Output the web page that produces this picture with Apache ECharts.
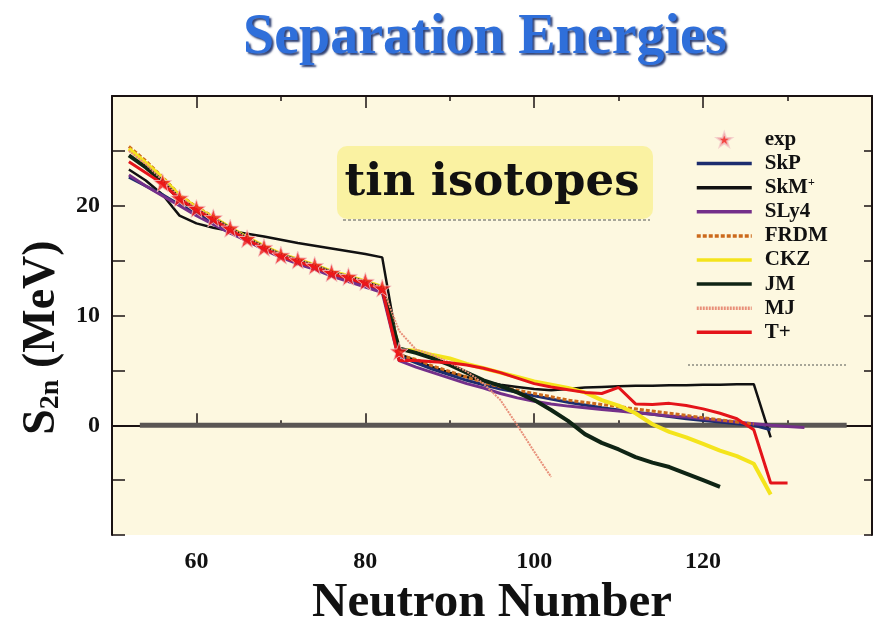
<!DOCTYPE html>
<html>
<head>
<meta charset="utf-8">
<script src="https://cdn.jsdelivr.net/npm/echarts@6/dist/echarts.min.js"></script>
<style>
html,body{margin:0;padding:0;background:#ffffff;}
#chart{width:879px;height:633px;}
</style>
</head>
<body>
<div id="chart"></div>
<script>
// Neutron numbers (even N)
const neutrons = [52,54,56,58,60,62,64,66,68,70,72,74,76,78,80,82,84,86,88,90,92,94,96,98,100,102,104,106,108,110,112,114,116,118,120,122,124,126,128,130,132];

// S2n values (MeV) per model, null where not drawn
const expS2n = [null,null,22.1,20.7,19.75,18.9,17.95,17.0,16.2,15.5,15.05,14.55,13.9,13.55,13.1,12.5,6.75,
  null,null,null,null,null,null,null,null,null,null,null,null,null,null,null,null,null,null,null,null,null,null,null,null];
const skpS2n = [22.6,21.8,21.0,20.1,19.3,18.5,17.7,16.9,16.2,15.5,14.9,14.4,13.8,13.3,12.8,12.3,6.3,5.7,5.1,4.6,4.1,3.7,3.3,3.0,2.7,2.4,2.1,1.85,1.6,1.4,1.2,1.0,0.8,0.6,0.45,0.3,0.15,0.0,-0.4,null,null];
const skmS2n = [23.3,22.3,21.0,19.1,18.4,18.0,17.7,17.45,17.2,16.9,16.6,16.35,16.1,15.85,15.6,15.3,6.5,5.9,5.3,4.8,4.4,4.0,3.7,3.5,3.3,3.2,3.3,3.45,3.5,3.55,3.6,3.6,3.65,3.65,3.7,3.7,3.75,3.75,-1.1,null,null];
const sly4S2n = [22.8,21.8,20.9,20.0,19.1,18.3,17.5,16.8,16.0,15.3,14.7,14.2,13.6,13.1,12.6,12.1,5.9,5.3,4.8,4.3,3.8,3.4,2.9,2.5,2.2,1.95,1.75,1.6,1.45,1.3,1.15,1.0,0.85,0.75,0.6,0.45,0.3,0.15,0.0,-0.1,-0.2];
const frdmS2n = [25.4,24.1,22.6,21.0,19.9,19.0,18.0,17.1,16.3,15.6,15.1,14.6,14.0,13.6,13.1,12.6,6.4,6.0,5.4,4.9,4.4,3.9,3.5,3.2,2.9,2.6,2.3,2.1,1.9,1.7,1.5,1.3,1.1,0.9,0.7,0.5,0.3,0.1,null,null,null];
const ckzS2n = [25.2,23.9,22.5,20.9,19.8,18.9,18.0,17.1,16.3,15.6,15.1,14.6,14.0,13.6,13.1,12.6,6.9,6.8,6.4,6.1,5.6,5.2,4.8,4.4,4.0,3.7,3.4,3.0,2.3,1.8,1.1,0.1,-0.6,-1.1,-1.7,-2.3,-2.8,-3.5,-6.3,null,null];
const jmS2n = [24.6,23.5,22.2,20.6,19.6,18.8,17.9,17.0,16.2,15.5,15.0,14.5,13.9,13.5,13.0,12.5,7.0,6.6,6.1,5.5,4.8,4.1,3.6,3.0,2.3,1.4,0.4,-0.8,-1.6,-2.2,-2.9,-3.4,-3.8,-4.4,-5.0,-5.6,null,null,null,null,null];
const mjS2n = [25.0,23.8,22.3,20.8,19.8,18.9,18.0,17.1,16.3,15.6,15.1,14.6,14.0,13.6,13.1,12.6,8.6,6.9,6.4,5.7,4.9,3.8,2.3,0.0,-2.4,-4.7,null,null,null,null,null,null,null,null,null,null,null,null,null,null,null];
const tplusS2n = [24.0,23.0,22.0,20.6,19.6,18.7,17.8,16.9,16.1,15.4,14.9,14.4,13.8,13.4,12.9,12.4,5.9,5.9,5.8,5.7,5.5,5.2,4.8,4.3,3.8,3.5,3.25,3.0,2.9,3.45,1.95,1.9,2.0,1.8,1.5,1.1,0.6,-0.4,-5.25,-5.25,null];

// zero reference line
const zeroLineN = [53.3, 137];
const zeroLineS = [0, 0];

// axis ticks / labels
const xMajorTicks = [60, 80, 100, 120];
const xMinorTicks = [70, 90, 110, 130];
const xLabels = [60, 80, 100, 120];
const yLabels = [0, 10, 20];

const legendNames = ['exp','SkP','SkM*','SLy4','FRDM','CKZ','JM','MJ','T+'];

function pairs(vals){
  return neutrons.map((n,i)=>[n, vals[i]]).filter(p => p[1] !== null);
}

const STAR = 'path://M0,-10 L2.35,-3.24 L9.51,-3.09 L3.8,1.24 L5.88,8.09 L0,4 L-5.88,8.09 L-3.8,1.24 L-9.51,-3.09 L-2.35,-3.24 Z';
const SERIF = '"Liberation Serif","Times New Roman",serif';

function lineSeries(name, vals, color, width, type, z){
  return {
    name: name, type: 'line', data: pairs(vals), symbol: 'none',
    lineStyle: {color: color, width: width, type: type || 'solid'},
    itemStyle: {color: color},
    z: z || 2, silent: true, animation: false
  };
}

const chart = echarts.init(document.getElementById('chart'), null, {renderer: 'canvas'});

const axisLineStyle = {color: '#1a1212', width: 2};

chart.setOption({
  backgroundColor: '#ffffff',
  animation: false,
  title: {
    text: 'Separation Energies',
    left: 238, top: 6,
    textStyle: {
      fontFamily: SERIF, fontWeight: 'bold', fontSize: 56, color: '#2f6fda',
      textShadowColor: 'rgba(10,30,90,0.85)', textShadowOffsetX: 2, textShadowOffsetY: 2, textShadowBlur: 2
    }
  },
  grid: {left: 112, right: 7, top: 96, bottom: 93, show: true, backgroundColor: '#fdf8e0', borderWidth: 0},
  legend: {
    data: legendNames.map(n => n === 'exp' ? {name: n} : {name: n, itemStyle: {opacity: 0}}),
    orient: 'vertical', left: 690, top: 124,
    itemWidth: 55, itemHeight: 14, itemGap: 3.1,
    lineStyle: {width: 3.5},
    textStyle: {
      fontFamily: SERIF, fontWeight: 'bold', fontSize: 21, color: '#111', padding: [0,0,0,8],
      rich: {sup: {fontFamily: SERIF, fontWeight: 'bold', fontSize: 12, color: '#111', verticalAlign: 'top', padding: [0,0,8,0]}}
    },
    formatter: function(n){ return n === 'SkM*' ? n.replace('*','') + '{sup|+}' : n; },
    selectedMode: false
  },
  xAxis: [
    {
      type: 'value', min: 50, max: 140, position: 'bottom',
      name: 'Neutron Number', nameLocation: 'middle', nameGap: 42,
      nameTextStyle: {fontFamily: SERIF, fontWeight: 'bold', fontSize: 49, color: '#111'},
      axisLine: {show: true, lineStyle: axisLineStyle},
      axisTick: {show: true, inside: true, length: 12, customValues: xMajorTicks, lineStyle: {color: '#1a1212', width: 1.5}},
      axisLabel: {customValues: xLabels, margin: 15, fontFamily: SERIF, fontWeight: 'bold', fontSize: 24, color: '#111'},
      splitLine: {show: false}
    },
    {
      type: 'value', min: 50, max: 140, position: 'bottom',
      axisLine: {show: false},
      axisTick: {show: true, inside: true, length: 5, customValues: xMinorTicks, lineStyle: {color: '#1a1212', width: 1.5}},
      axisLabel: {show: false}, splitLine: {show: false}
    },
    {
      type: 'value', min: 50, max: 140, position: 'top',
      axisLine: {show: true, lineStyle: axisLineStyle},
      axisTick: {show: true, inside: true, length: 12, customValues: xMajorTicks, lineStyle: {color: '#1a1212', width: 1.5}},
      axisLabel: {show: false}, splitLine: {show: false}
    },
    {
      type: 'value', min: 50, max: 140, position: 'top',
      axisLine: {show: false},
      axisTick: {show: true, inside: true, length: 5, customValues: xMinorTicks, lineStyle: {color: '#1a1212', width: 1.5}},
      axisLabel: {show: false}, splitLine: {show: false}
    }
  ],
  yAxis: [
    {
      type: 'value', min: -10, max: 30, interval: 5, position: 'left',
      name: '{b|S}{s|2n}{b| (MeV)}', nameLocation: 'middle', nameGap: 41, nameRotate: 90,
      nameTextStyle: {
        padding: [0, 44, 0, 0],
        rich: {
          b: {fontFamily: SERIF, fontWeight: 'bold', fontSize: 46, color: '#111'},
          s: {fontFamily: SERIF, fontWeight: 'bold', fontSize: 28, color: '#111', verticalAlign: 'bottom'}
        }
      },
      axisLine: {show: true, lineStyle: axisLineStyle},
      axisTick: {show: true, inside: true, length: 13, lineStyle: {color: '#1a1212', width: 1.5}},
      axisLabel: {customValues: yLabels, margin: 12, fontFamily: SERIF, fontWeight: 'bold', fontSize: 24, color: '#111'},
      splitLine: {show: false}
    },
    {
      type: 'value', min: -10, max: 30, interval: 5, position: 'right',
      axisLine: {show: true, lineStyle: axisLineStyle},
      axisTick: {show: true, inside: true, length: 8, lineStyle: {color: '#1a1212', width: 1.5}},
      axisLabel: {show: false}, splitLine: {show: false}
    }
  ],
  graphic: [
    {type: 'rect', shape: {x: 337, y: 146, width: 316, height: 73, r: 10}, style: {fill: '#faf2a2'}, z: 1, silent: true},
    {type: 'line', shape: {x1: 343, y1: 220, x2: 650, y2: 220}, style: {stroke: '#8a8a80', lineWidth: 1.5, lineDash: [3, 2]}, z: 1, silent: true},
    {type: 'text', x: 492, y: 183, style: {text: 'tin isotopes', font: 'bold 45px "DejaVu Serif", serif', fill: '#111', align: 'center', verticalAlign: 'middle'}, z: 2, silent: true},
    {type: 'line', shape: {x1: 688, y1: 365, x2: 847, y2: 365}, style: {stroke: '#8a8a80', lineWidth: 1.5, lineDash: [2, 2]}, z: 1, silent: true}
  ],
  series: [
    {
      name: 'zero', type: 'line', data: zeroLineN.map((n,i)=>[n, zeroLineS[i]]), symbol: 'none',
      lineStyle: {color: '#5a5654', width: 5}, z: 1, silent: true
    },
    lineSeries('SkM*', skmS2n, '#111111', 2.5, 'solid', 3),
    lineSeries('SkP', skpS2n, '#1c2d6e', 3, 'solid', 3),
    lineSeries('SLy4', sly4S2n, '#74308a', 3, 'solid', 3),
    lineSeries('FRDM', frdmS2n, '#cc6a1c', 3, [4, 2], 3),
    lineSeries('CKZ', ckzS2n, '#f4e41c', 4, 'solid', 3),
    lineSeries('JM', jmS2n, '#0f2414', 4, 'solid', 4),
    lineSeries('MJ', mjS2n, '#e8907a', 2, [2, 1], 4),
    lineSeries('T+', tplusS2n, '#e4141a', 3, 'solid', 4),
    {
      name: 'exp', type: 'scatter', data: pairs(expS2n), symbol: STAR, symbolSize: 18,
      itemStyle: {color: '#f01818', borderColor: '#f2c8c8', borderWidth: 1},
      z: 10, silent: true
    }
  ]
});
</script>
</body>
</html>
